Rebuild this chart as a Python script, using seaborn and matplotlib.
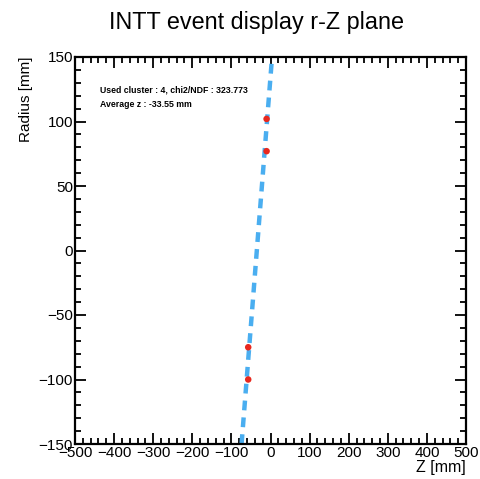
import matplotlib
matplotlib.use("Agg")
import matplotlib.pyplot as plt
import seaborn as sns
import pandas as pd
from matplotlib.ticker import MultipleLocator

# clusters in the r-Z plane
cluster_z = [-10, -10, -57, -57]
cluster_r = [102, 77, -75, -100]

# fitted track (endpoints at the frame edges)
track_z = [-74, 4]
track_r = [-150, 150]

title = "INTT event display r-Z plane"
info_lines = ["Used cluster : 4, chi2/NDF : 323.773",
              "Average z : -33.55 mm"]


def main():
    sns.set_theme(style="ticks")
    plt.rcParams['font.family'] = ['Liberation Sans', 'DejaVu Sans']
    plt.rcParams['text.color'] = 'black'
    plt.rcParams['axes.labelcolor'] = 'black'
    plt.rcParams['xtick.color'] = 'black'
    plt.rcParams['ytick.color'] = 'black'

    clusters = pd.DataFrame({'z': cluster_z, 'r': cluster_r})
    track = pd.DataFrame({'z': track_z, 'r': track_r})

    fig = plt.figure(figsize=(4.8, 4.79), dpi=100)
    ax = fig.add_axes([75 / 480, 1 - 444 / 479, 391 / 480, 387 / 479])

    sns.lineplot(data=track, x='z', y='r', ax=ax, color='#4aaef0',
                 linewidth=3.2, linestyle=(0, (2.2, 1.6)), sort=False)
    sns.scatterplot(data=clusters, x='z', y='r', ax=ax, color='#e8281e',
                    s=22, edgecolor='none', zorder=3)

    ax.set_xlim(-500, 500)
    ax.set_ylim(-150, 150)
    ax.xaxis.set_major_locator(MultipleLocator(100))
    ax.xaxis.set_minor_locator(MultipleLocator(20))
    ax.yaxis.set_major_locator(MultipleLocator(50))
    ax.yaxis.set_minor_locator(MultipleLocator(10))
    ax.tick_params(which='both', direction='in', top=True, right=True,
                   labelsize=11, width=1.3, pad=1.5, color='black',
                   labelcolor='black')
    ax.tick_params(which='major', length=8)
    ax.tick_params(which='minor', length=4)
    for sp in ax.spines.values():
        sp.set_linewidth(1.6)
        sp.set_color('black')

    ax.set_xlabel('Z [mm]', fontsize=11.5, loc='right', labelpad=0,
                  color='black')
    ax.set_ylabel('Radius [mm]', fontsize=11, loc='top', labelpad=4,
                  color='black')

    fig.text(0.535, 0.953, title, ha='center', va='center', fontsize=16.8,
             color='black')

    ax.text(0.064, 0.915, info_lines[0], transform=ax.transAxes,
            fontsize=6.3, fontweight='bold', va='center', color='black')
    ax.text(0.064, 0.876, info_lines[1], transform=ax.transAxes,
            fontsize=6.3, fontweight='bold', va='center', color='black')

    fig.savefig('out.png', dpi=100)
    plt.close(fig)


if __name__ == '__main__':
    main()
